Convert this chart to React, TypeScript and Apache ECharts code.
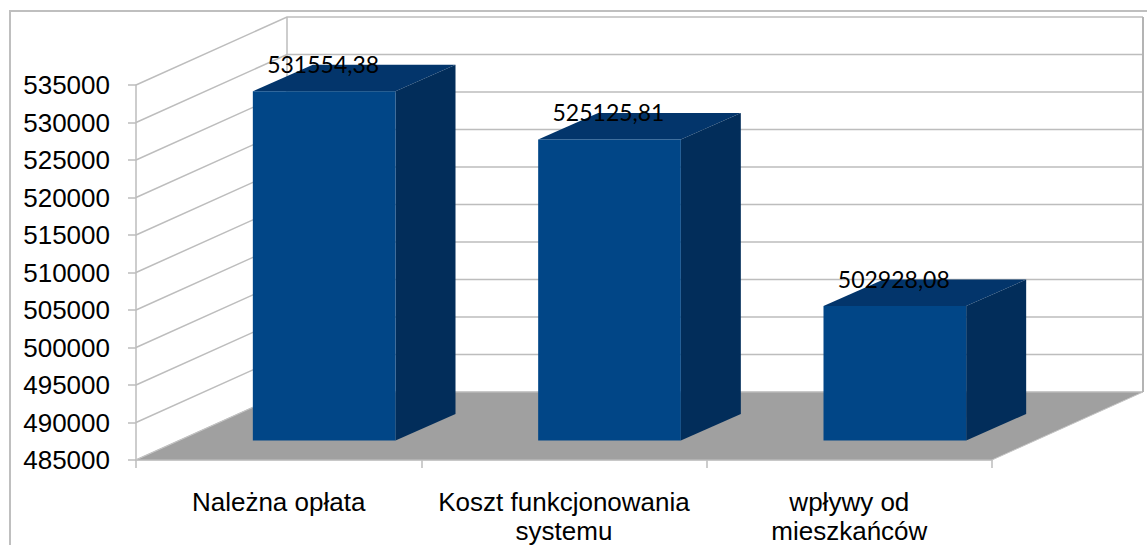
import React, { useEffect, useRef } from "react";
import * as echarts from "echarts";

const categories = ["Należna opłata", "Koszt funkcjonowania\nsystemu", "wpływy od\nmieszkańców"];
const values = [531554.38, 525125.81, 502928.08];
const valueLabels = ["531554,38", "525125,81", "502928,08"];
const yTicks = [485000, 490000, 495000, 500000, 505000, 510000, 515000, 520000, 525000, 530000, 535000];
const yMin = 485000;
const yMax = 535000;

const wallDx = 151;
const wallDy = 68;
const barDx = 45.5;
const barDy = 19.5;
const sideDx = 60;
const sideDy = 26.5;
const gridColor = "#bdbdbd";
const fontLabel = "Liberation Sans";

export default function App() {
  const ref = useRef<HTMLDivElement>(null);
  useEffect(() => {
    const chart = echarts.init(ref.current!, null, { renderer: "svg" });
    const wallItem = (_p: any, api: any) => {
      const [x0, y] = api.coord([0, api.value(1)]);
      const w = api.size([1, 0])[0];
      const left = x0 - w / 2;
      const right = left + w * categories.length;
      return {
        type: "polyline",
        shape: { points: [[left, y], [left + wallDx, y - wallDy], [right + wallDx, y - wallDy]] },
        style: { fill: "none", stroke: gridColor, lineWidth: 1.5 },
      };
    };
    const floorItem = (_p: any, api: any) => {
      const [x0, y] = api.coord([0, yMin]);
      const [, yTop] = api.coord([0, yMax]);
      const w = api.size([1, 0])[0];
      const left = x0 - w / 2;
      const right = left + w * categories.length;
      return {
        type: "group",
        children: [
          {
            type: "polygon",
            shape: { points: [[left, y], [left + wallDx, y - wallDy], [right + wallDx, y - wallDy], [right, y]] },
            style: { fill: "#a0a0a0", stroke: "#c4c4c4", lineWidth: 1 },
          },
          {
            type: "polyline",
            shape: { points: [[left + wallDx, y - wallDy], [left + wallDx, yTop - wallDy]] },
            style: { fill: "none", stroke: gridColor, lineWidth: 1.5 },
          },
          {
            type: "polyline",
            shape: { points: [[right + wallDx, y - wallDy], [right + wallDx, yTop - wallDy]] },
            style: { fill: "none", stroke: "#b4b4b4", lineWidth: 2 },
          },
        ],
      };
    };
    const barItem = (_p: any, api: any) => {
      const idx = api.value(0);
      const [cx, yTopF] = api.coord([idx, api.value(1)]);
      const [, yBotF] = api.coord([idx, yMin]);
      const halfW = api.size([1, 0])[0] * 0.25;
      const l = cx + barDx - halfW;
      const r = cx + barDx + halfW;
      const t = yTopF - barDy;
      const b = yBotF - barDy;
      return {
        type: "group",
        children: [
          { type: "polygon", shape: { points: [[l, t], [r, t], [r + sideDx, t - sideDy], [l + sideDx, t - sideDy]] }, style: { fill: "#03356b" } },
          { type: "polygon", shape: { points: [[r, t], [r + sideDx, t - sideDy], [r + sideDx, b - sideDy], [r, b]] }, style: { fill: "#022d5a" } },
          { type: "rect", shape: { x: l, y: t, width: r - l, height: b - t }, style: { fill: "#014687" } },
          {
            type: "text",
            style: {
              text: valueLabels[idx],
              x: cx + barDx - 1,
              y: t - 27.5,
              align: "center",
              verticalAlign: "middle",
              fill: "#000",
              font: "23px Lato",
            },
          },
        ],
      };
    };
    chart.setOption({
      animation: false,
      backgroundColor: "#fff",
      grid: { left: 136, right: 155, top: 85, bottom: 85, outerBoundsMode: "none" },
      graphic: [
        {
          type: "rect",
          shape: { x: 10, y: 11, width: 1300, height: 700 },
          style: { fill: "none", stroke: "#bfbfbf", lineWidth: 2 },
        },
      ],
      xAxis: {
        type: "category",
        data: categories,
        axisLine: { lineStyle: { color: gridColor, width: 1.5 } },
        axisTick: { show: true, length: 8, lineStyle: { color: gridColor, width: 1.5 } },
        axisLabel: { color: "#000", fontFamily: fontLabel, fontSize: 26, lineHeight: 29, margin: 27, interval: 0 },
      },
      yAxis: {
        type: "value",
        min: yMin,
        max: yMax,
        interval: 5000,
        splitLine: { show: false },
        axisLine: { show: true, lineStyle: { color: gridColor, width: 1.5 } },
        axisTick: { show: true, length: 8, lineStyle: { color: gridColor, width: 1.5 } },
        axisLabel: { color: "#000", fontFamily: fontLabel, fontSize: 26, margin: 26, formatter: (v: number) => String(v) },
      },
      series: [
        { type: "custom", z: 1, clip: false, renderItem: wallItem, data: yTicks.map((v) => [0, v]), silent: true },
        { type: "custom", z: 2, clip: false, renderItem: floorItem, data: [[0, yMin]], silent: true },
        { type: "custom", z: 3, clip: false, renderItem: barItem, data: values.map((v, i) => [i, v]), silent: true },
      ],
    });
    return () => chart.dispose();
  }, []);
  return <div ref={ref} style={{ position: "fixed", left: 0, top: 0, width: 1147, height: 545 }} />;
}
